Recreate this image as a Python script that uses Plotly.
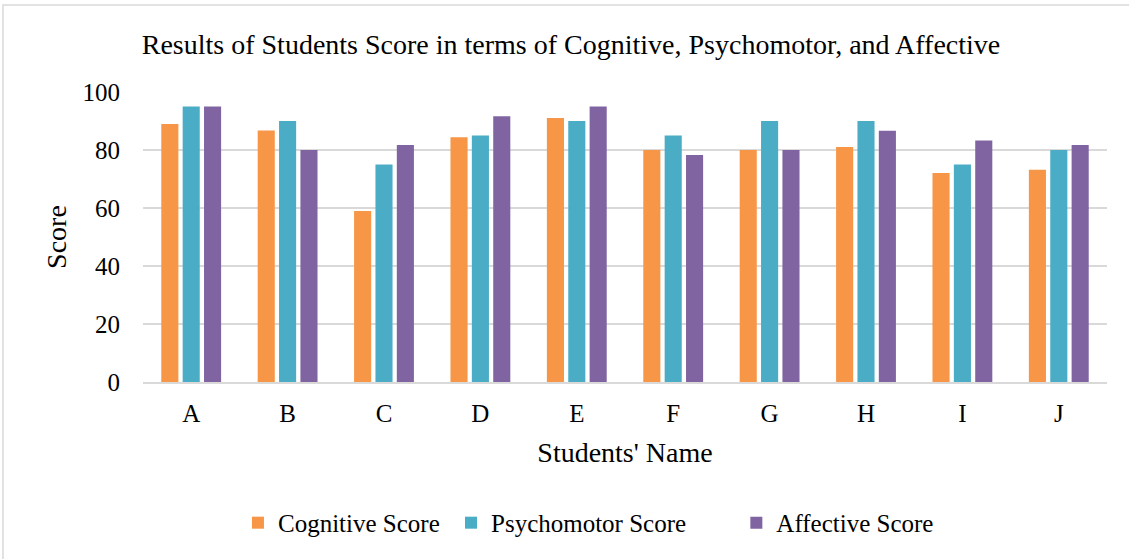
import plotly.graph_objects as go

students = ["A", "B", "C", "D", "E", "F", "G", "H", "I", "J"]
cognitive = [89, 86.7, 59, 84.4, 91, 80, 80, 81, 72.1, 73.2]
psychomotor = [95, 90, 75, 85, 90, 85, 90, 90, 75, 80]
affective = [95, 80, 81.7, 91.6, 95, 78.3, 80, 86.6, 83.3, 81.7]

series_names = ["Cognitive Score", "Psychomotor Score", "Affective Score"]
colors = ["#F79646", "#4BACC6", "#8064A2"]
legend_ids = ["legend", "legend2", "legend3"]
legend_x = [0.0985, 0.3195, 0.6155]

fig = go.Figure()
for name, vals, col, lg in zip(series_names, [cognitive, psychomotor, affective], colors, legend_ids):
    fig.add_trace(go.Bar(x=students, y=vals, name=name, legend=lg, showlegend=True,
                         marker=dict(color=col, line=dict(width=0))))

font_fam = "Liberation Serif, Times New Roman, serif"
legend_common = dict(y=-0.486, yanchor="middle", xanchor="left",
                     font=dict(family=font_fam, size=25, color="#000000"),
                     bgcolor="rgba(0,0,0,0)", borderwidth=0)

fig.update_layout(
    width=1129, height=559, showlegend=True,
    paper_bgcolor="white", plot_bgcolor="white",
    margin=dict(l=143, r=22, t=92, b=177),
    barmode="group", bargap=0.335, bargroupgap=0.2,
    font=dict(family=font_fam, size=25, color="#000000"),
    title=dict(text="Results of Students Score in terms of Cognitive, Psychomotor, and Affective",
               x=571 / 1129, xanchor="center", xref="container", y=1 - 44 / 559, yanchor="middle",
               font=dict(family=font_fam, size=28, color="#000000")),
    xaxis=dict(title=dict(text="Students' Name", font=dict(size=28), standoff=17),
               showgrid=False, showline=True, linecolor="#d9d9d9", linewidth=1.5,
               ticks="", tickfont=dict(size=25), ticklabelstandoff=8),
    yaxis=dict(title=dict(text="Score", font=dict(size=28), standoff=7),
               range=[0, 100], dtick=20, showgrid=True, gridcolor="#d9d9d9", gridwidth=1.5,
               zeroline=False, showline=False, ticks="", tickfont=dict(size=25),
               ticklabelstandoff=22),
    legend=dict(x=legend_x[0], **legend_common),
    legend2=dict(x=legend_x[1], **legend_common),
    legend3=dict(x=legend_x[2], **legend_common),
    shapes=[dict(type="rect", xref="paper", yref="paper",
                 x0=(3 - 143) / 964, x1=(1135 - 143) / 964,
                 y0=(382 - 565) / 290, y1=(382 - 5) / 290,
                 line=dict(color="#d9d9d9", width=1.5), fillcolor="rgba(0,0,0,0)", layer="below")],
)

fig.write_html("out.html", config={"displayModeBar": False},
               post_script="document.body.style.margin='0';document.body.style.padding='0';")
